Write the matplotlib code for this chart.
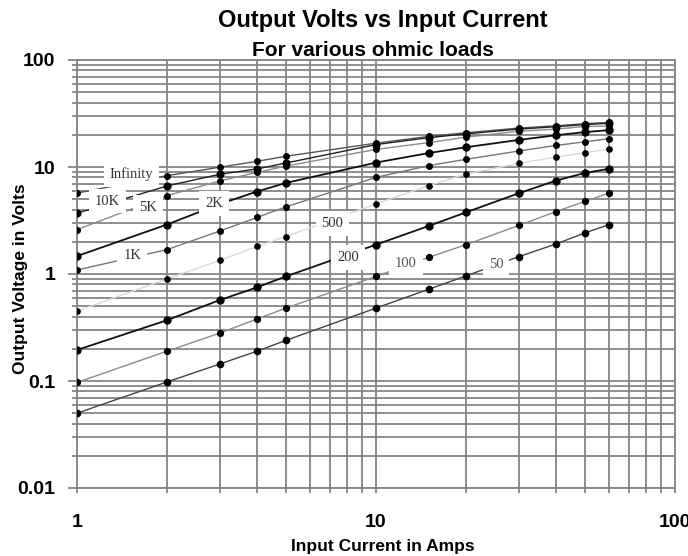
#%% LIBRARIES
import matplotlib.pyplot as plt
from matplotlib.ticker import LogLocator, NullFormatter, FixedLocator, FixedFormatter

#%% DATA

current = [1, 2, 3, 4, 5, 10, 15, 20, 30, 40, 50, 60]

v_infinity = [5.7, 8.3, 9.95, 11.3, 12.6, 16.7, 19.3, 20.9, 23.1, 24.3, 25.4, 26.1]
v_10k = [3.7, 6.65, 8.55, 9.6, 10.9, 16.2, 18.8, 20.4, 22.6, 23.8, 24.9, 25.6]
v_5k = [2.6, 5.4, 7.4, 8.9, 10.2, 14.6, 16.9, 19.0, 21.6, 22.6, 23.9, 24.1]
v_2k = [1.47, 2.9, 4.5, 5.9, 7.1, 11.0, 13.5, 15.3, 17.9, 19.8, 21.2, 22.1]
v_1k = [1.09, 1.69, 2.52, 3.38, 4.24, 8.0, 10.3, 11.8, 14.1, 15.9, 17.2, 18.4]
v_500 = [0.45, 0.9, 1.34, 1.81, 2.24, 4.52, 6.7, 8.6, 10.8, 12.4, 13.6, 14.7]
v_200 = [0.195, 0.37, 0.57, 0.75, 0.95, 1.88, 2.81, 3.77, 5.68, 7.46, 8.8, 9.6]
v_100 = [0.097, 0.19, 0.28, 0.38, 0.48, 0.95, 1.43, 1.88, 2.84, 3.83, 4.78, 5.68]
v_50 = [0.05, 0.098, 0.144, 0.19, 0.24, 0.48, 0.72, 0.96, 1.45, 1.91, 2.42, 2.89]

load_names = ['Infinity', '10K', '5K', '2K', '1K', '500', '200', '100', '50']
load_values = [v_infinity, v_10k, v_5k, v_2k, v_1k, v_500, v_200, v_100, v_50]

x_ticks = [1, 10, 100]
x_tick_labels = ['1', '10', '100']
y_ticks = [0.01, 0.1, 1, 10, 100]
y_tick_labels = ['0.01', '0.1', '1', '10', '100']

#%% STYLE PER LOAD  (line colour, line width, marker size, label position, label colour)

styles = {
    'Infinity': ('#555555', 1.0, 4.0, (1.52, 8.5), '#333333'),
    '10K': ('#222222', 1.0, 4.8, (1.265, 4.8), '#333333'),
    '5K': ('#8c8c8c', 1.0, 4.0, (1.73, 4.22), '#333333'),
    '2K': ('#111111', 1.3, 5.0, (2.87, 4.55), '#333333'),
    '1K': ('#777777', 1.0, 4.0, (1.53, 1.48), '#333333'),
    '500': ('#dadada', 1.0, 3.8, (7.15, 2.95), '#333333'),
    '200': ('#111111', 1.3, 5.0, (8.06, 1.43), '#333333'),
    '100': ('#8c8c8c', 1.0, 4.2, (12.6, 1.25), '#555555'),
    '50': ('#444444', 1.0, 4.5, (25.2, 1.22), '#555555'),
}

grid_color = '#858585'
sans = 'Liberation Sans'

#%% PLOT

fig = plt.figure(figsize=(6.88, 5.56), dpi=100)
ax = fig.add_axes([77 / 688, 1 - 488 / 556, (675 - 77) / 688, (488 - 60) / 556])

ax.set_xscale('log')
ax.set_yscale('log')
ax.set_xlim(1, 100)
ax.set_ylim(0.01, 100)

# minor log gridlines both ways, like the spreadsheet chart
ax.xaxis.set_minor_locator(LogLocator(base=10, subs=range(2, 10)))
ax.yaxis.set_minor_locator(LogLocator(base=10, subs=range(2, 10)))
ax.xaxis.set_minor_formatter(NullFormatter())
ax.yaxis.set_minor_formatter(NullFormatter())
ax.xaxis.set_major_locator(FixedLocator(x_ticks))
ax.xaxis.set_major_formatter(FixedFormatter(x_tick_labels))
ax.yaxis.set_major_locator(FixedLocator(y_ticks))
ax.yaxis.set_major_formatter(FixedFormatter(y_tick_labels))

ax.grid(True, which='both', color=grid_color, linewidth=1.3)
ax.set_axisbelow(True)
for side in ax.spines.values():
    side.set_color(grid_color)
    side.set_linewidth(1.3)

ax.tick_params(which='major', direction='out', width=1.3, color=grid_color, labelsize=14)
ax.tick_params(which='minor', direction='out', length=3.7, width=1.3, color=grid_color)
ax.tick_params(axis='y', which='major', length=6.5, pad=9.0)
ax.tick_params(axis='x', which='major', length=3.7, pad=15.0)
for lbl in ax.get_xticklabels() + ax.get_yticklabels():
    lbl.set_fontweight('bold')
    lbl.set_family(sans)

for name, values in zip(load_names, load_values):
    line_color, lw, ms, label_pos, text_color = styles[name]
    ax.plot(current, values, color=line_color, linewidth=lw, zorder=3)
    ax.plot(current, values, linestyle='none', marker='o', markersize=ms,
            color='black', zorder=4)
    ax.text(label_pos[0], label_pos[1], name, ha='center', va='center',
            family='Liberation Serif', fontsize=10.5, color=text_color, zorder=5,
            bbox=dict(boxstyle='square,pad=0.4', facecolor='white', edgecolor='none'))

fig.text(383 / 688, 1 - 27.5 / 556, 'Output Volts vs Input Current', ha='center', va='baseline',
         fontsize=17, fontweight='bold', family=sans)
fig.text(373 / 688, 1 - 56.5 / 556, 'For various ohmic loads', ha='center', va='baseline',
         fontsize=15, fontweight='bold', family=sans)
fig.text(383 / 688, 1 - 551 / 556, 'Input Current in Amps', ha='center', va='baseline',
         fontsize=12.5, fontweight='bold', family=sans)
fig.text(21 / 688, 1 - 279 / 556, 'Output Voltage in Volts', ha='center', va='center',
         rotation=90, fontsize=12.5, fontweight='bold', family=sans)

fig.savefig('out.png', dpi=100)
